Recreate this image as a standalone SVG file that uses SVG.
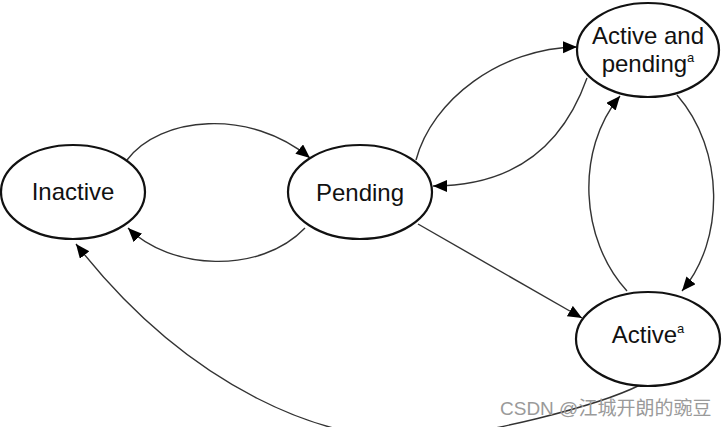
<svg xmlns="http://www.w3.org/2000/svg" width="726" height="427" viewBox="0 0 726 427">
<style>
.node{fill:#fff;stroke:#111;stroke-width:2.2}
.lbl{font-family:"Liberation Sans",Arial,sans-serif;font-size:24px;fill:#111;text-anchor:middle}
.sup{font-size:13px}
.edge{fill:none;stroke:#333;stroke-width:1.4;marker-end:url(#arr)}
.wm{font-family:"Liberation Sans","Noto Sans CJK SC",sans-serif;font-size:19px;fill:#9a9a9a}
</style>
<defs>
<marker id="arr" markerUnits="userSpaceOnUse" markerWidth="16" markerHeight="14" refX="14" refY="6" orient="auto">
<path d="M0,0 L14,6 L0,12 Z" fill="#000"/>
</marker>
</defs>
<rect width="726" height="427" fill="#fff"/>
<g id="connectors">
<path class="edge" d="M127,160 C160,116 250,108 310,158"/>
<path class="edge" d="M305,228 C260,275 170,270 128,228"/>
<path class="edge" d="M416,160 C432,100 500,48 577,47"/>
<path class="edge" d="M587,78 C565,140 520,186 433,186"/>
<path class="edge" d="M677,95 C725,150 725,240 682,291"/>
<path class="edge" d="M627,291 C580,240 575,150 620,96"/>
<path class="edge" d="M418,224 L582,318"/>
<path class="edge" d="M640,385 C600,405 480,437 420,437 C330,445 190,390 76,244"/>
</g>
<g id="inactive">
<ellipse class="node" cx="73" cy="192" rx="72" ry="47"/>
<text class="lbl" x="73" y="200">Inactive</text>
</g>
<g id="pending">
<ellipse class="node" cx="360" cy="192" rx="72" ry="47"/>
<text class="lbl" x="360" y="201">Pending</text>
</g>
<g id="active-pending">
<ellipse class="node" cx="648" cy="50" rx="71" ry="47"/>
<text class="lbl" x="648" y="44">Active and</text>
<text class="lbl" x="648" y="72">pending<tspan class="sup" dy="-10">a</tspan></text>
</g>
<g id="active">
<ellipse class="node" cx="648" cy="339" rx="72" ry="47"/>
<text class="lbl" x="648" y="343">Active<tspan class="sup" dy="-10">a</tspan></text>
</g>
<text class="wm" x="500" y="415">CSDN @江城开朗的豌豆</text>
</svg>
